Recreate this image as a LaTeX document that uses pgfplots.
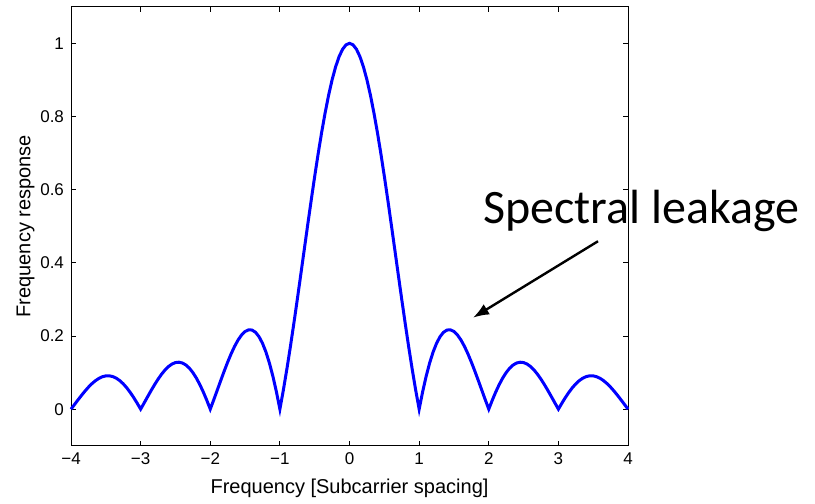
\documentclass[border=0pt]{standalone}
\usepackage{fontspec}
\setmainfont{Liberation Sans}
\newfontfamily\calibri{Carlito}
\usepackage{pgfplots}
\pgfplotsset{compat=1.18}
\usetikzlibrary{arrows.meta}

\begin{document}
\begin{tikzpicture}
\begin{axis}[
  width=278.5pt, height=219.5pt, scale only axis,
  xmin=-4, xmax=4, ymin=-0.1, ymax=1.1,
  xtick={-4,-3,-2,-1,0,1,2,3,4},
  xticklabels={−4,−3,−2,−1,0,1,2,3,4},
  ytick={0,0.2,0.4,0.6,0.8,1},
  yticklabels={0,0.2,0.4,0.6,0.8,1},
  xtick pos=both, ytick pos=both,
  tick align=inside, major tick length=2.5pt,
  tick style={black, line width=0.4pt},
  axis line style={black, line width=0.5pt},
  tick label style={font=\fontsize{8.5}{10}\selectfont},
  label style={font=\fontsize{10}{12}\selectfont},
  xlabel={Frequency [Subcarrier spacing]},
  ylabel={Frequency response},
  ylabel shift=-4pt,
  clip=false,
]
\addplot[blue, line width=1.5pt] coordinates {
(-4,0) (-3.95,0.012606) (-3.9,0.025221) (-3.85,0.037535) (-3.8,0.049236) (-3.75,0.060021)
(-3.7,0.069600) (-3.65,0.077703) (-3.6,0.084092) (-3.55,0.088561) (-3.5,0.090946)
(-3.45,0.091127) (-3.4,0.089038) (-3.35,0.084662) (-3.3,0.078035) (-3.25,0.069255)
(-3.2,0.058468) (-3.15,0.045876) (-3.1,0.031730) (-3.05,0.016326) (-3,0)
(-2.95,0.016879) (-2.9,0.033918) (-2.85,0.050705) (-2.8,0.066821) (-2.75,0.081847)
(-2.7,0.095377) (-2.65,0.107025) (-2.6,0.116435) (-2.55,0.123291) (-2.5,0.127324)
(-2.45,0.128323) (-2.4,0.126138) (-2.35,0.120688) (-2.3,0.111964) (-2.25,0.100035)
(-2.2,0.085044) (-2.15,0.067214) (-2.1,0.046840) (-2.05,0.024290) (-2,0)
(-1.95,0.025536) (-1.9,0.051770) (-1.85,0.078114) (-1.8,0.103943) (-1.75,0.128617)
(-1.7,0.151481) (-1.65,0.171889) (-1.6,0.189207) (-1.55,0.202833) (-1.5,0.212207)
(-1.45,0.216822) (-1.4,0.216236) (-1.35,0.210084) (-1.3,0.198090) (-1.25,0.180063)
(-1.2,0.155915) (-1.15,0.125660) (-1.1,0.089421) (-1.05,0.047423) (-1,0)
(-0.95,0.052416) (-0.9,0.109292) (-0.85,0.170011) (-0.8,0.233872) (-0.75,0.300105)
(-0.7,0.367883) (-0.65,0.436332) (-0.6,0.504551) (-0.55,0.571620) (-0.5,0.636620)
(-0.45,0.698646) (-0.4,0.756827) (-0.35,0.810332) (-0.3,0.858394) (-0.25,0.900316)
(-0.2,0.935489) (-0.15,0.963397) (-0.1,0.983632) (-0.05,0.995892) (0,1)
(0.05,0.995892) (0.1,0.983632) (0.15,0.963397) (0.2,0.935489) (0.25,0.900316)
(0.3,0.858394) (0.35,0.810332) (0.4,0.756827) (0.45,0.698646) (0.5,0.636620)
(0.55,0.571620) (0.6,0.504551) (0.65,0.436332) (0.7,0.367883) (0.75,0.300105)
(0.8,0.233872) (0.85,0.170011) (0.9,0.109292) (0.95,0.052416) (1,0)
(1.05,0.047423) (1.1,0.089421) (1.15,0.125660) (1.2,0.155915) (1.25,0.180063)
(1.3,0.198090) (1.35,0.210084) (1.4,0.216236) (1.45,0.216822) (1.5,0.212207)
(1.55,0.202833) (1.6,0.189207) (1.65,0.171889) (1.7,0.151481) (1.75,0.128617)
(1.8,0.103943) (1.85,0.078114) (1.9,0.051770) (1.95,0.025536) (2,0)
(2.05,0.024290) (2.1,0.046840) (2.15,0.067214) (2.2,0.085044) (2.25,0.100035)
(2.3,0.111964) (2.35,0.120688) (2.4,0.126138) (2.45,0.128323) (2.5,0.127324)
(2.55,0.123291) (2.6,0.116435) (2.65,0.107025) (2.7,0.095377) (2.75,0.081847)
(2.8,0.066821) (2.85,0.050705) (2.9,0.033918) (2.95,0.016879) (3,0)
(3.05,0.016326) (3.1,0.031730) (3.15,0.045876) (3.2,0.058468) (3.25,0.069255)
(3.3,0.078035) (3.35,0.084662) (3.4,0.089038) (3.45,0.091127) (3.5,0.090946)
(3.55,0.088561) (3.6,0.084092) (3.65,0.077703) (3.7,0.069600) (3.75,0.060021)
(3.8,0.049236) (3.85,0.037535) (3.9,0.025221) (3.95,0.012606) (4,0)
};
% annotation
\node[font=\calibri\fontsize{24}{29}\selectfont, anchor=base west, inner sep=0pt]
  at (axis cs:1.917,0.508) {Spectral leakage};
\draw[-{Latex[length=8pt,width=6pt]}, line width=1.2pt]
  (axis cs:3.569,0.459) -- (axis cs:1.774,0.25);
% page extent
\path (rel axis cs:-0.1275,-0.114) rectangle (rel axis cs:1.3357,1.0153);
\end{axis}
\end{tikzpicture}
\end{document}
